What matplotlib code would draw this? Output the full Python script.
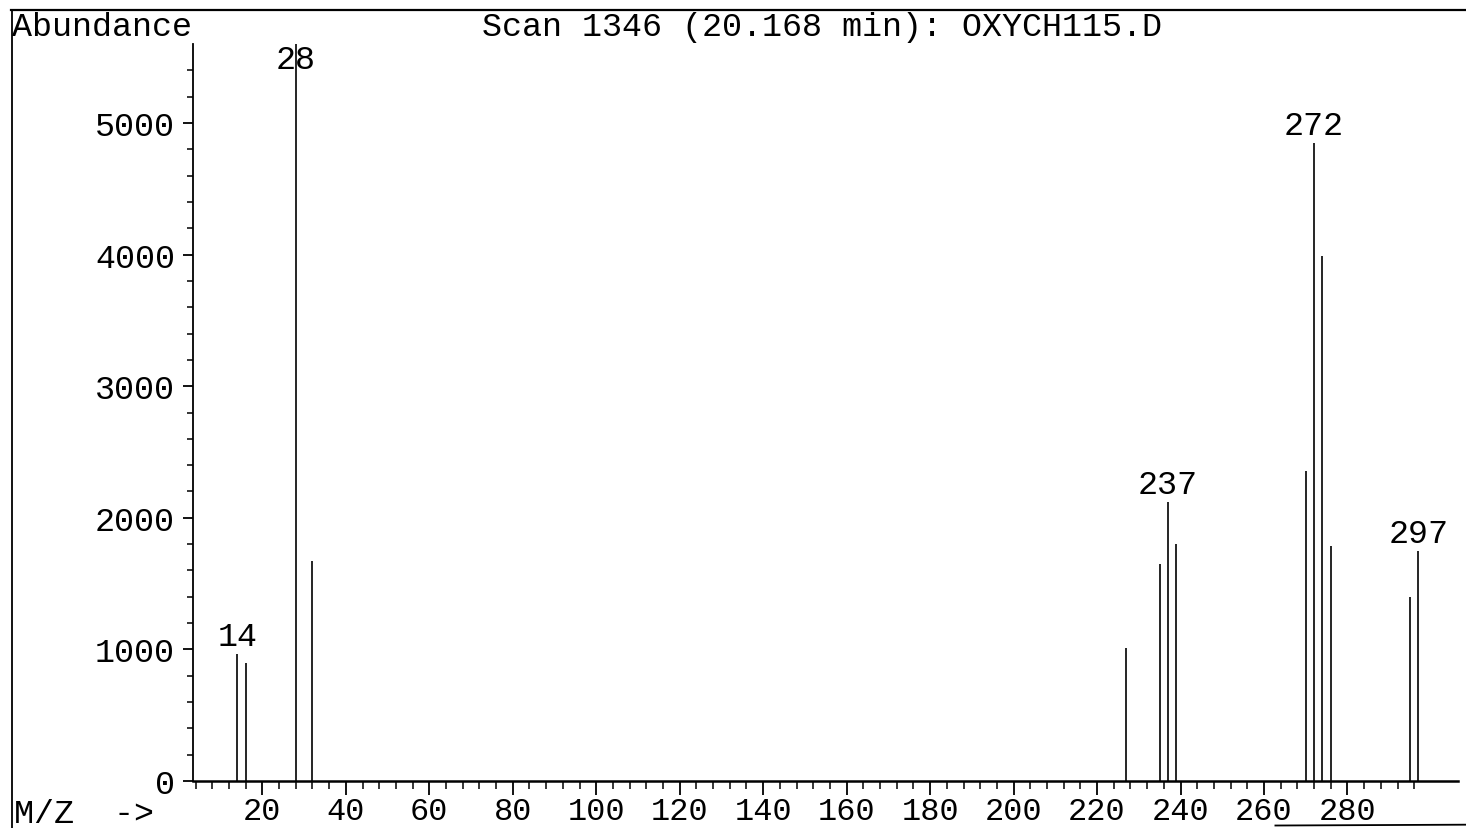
"""
    Mass spectrum stick plot, scan 1346
"""

import numpy as np
import matplotlib
matplotlib.use('Agg')
import matplotlib.pyplot as plt
from matplotlib.ticker import FixedLocator, NullFormatter

plt.rcParams['font.family'] = ['Liberation Mono', 'DejaVu Sans Mono']

# m/z of each ion and its abundance
mz = [14, 16, 28, 32, 227, 235, 237, 239, 270, 272, 274, 276, 295, 297]
abundance = [965, 900, 5600, 1670, 1010, 1650, 2120, 1800,
             2355, 4850, 3990, 1785, 1400, 1750]

# peaks that get their m/z printed above them
labelled = [14, 28, 237, 272, 297]

title = 'Scan 1346 (20.168 min): OXYCH115.D'
x_major = list(range(20, 281, 20))
x_minor = list(range(4, 297, 4))
y_major = [0, 1000, 2000, 3000, 4000, 5000]
y_minor = list(range(200, 5401, 200))

fig = plt.figure(figsize=(14.66, 8.29), dpi=100)
ax = fig.add_axes([0.1317, 0.0567, 0.8629, 0.889])

ax.vlines(mz, 0, abundance, colors='black', linewidth=1.2)

ymax = 5600
ax.set_xlim(3.4, 306.5)
ax.set_ylim(0, ymax)

for m, a in zip(mz, abundance):
    if m in labelled:
        ax.annotate(str(m), (m, min(a, 5350)), xytext=(0, 6.5),
                    textcoords='offset points', ha='center', va='baseline',
                    fontsize=24, color='black')

ax.spines['top'].set_visible(False)
ax.spines['right'].set_visible(False)
ax.spines['left'].set_linewidth(1.3)
ax.spines['bottom'].set_linewidth(1.8)

ax.xaxis.set_major_locator(FixedLocator(x_major))
ax.xaxis.set_minor_locator(FixedLocator(x_minor))
ax.yaxis.set_major_locator(FixedLocator(y_major))
ax.yaxis.set_minor_locator(FixedLocator(y_minor))
ax.xaxis.set_minor_formatter(NullFormatter())
ax.yaxis.set_minor_formatter(NullFormatter())

ax.tick_params(axis='x', which='major', direction='out', length=10,
               width=1.3, labelsize=23, pad=1)
ax.tick_params(axis='x', which='minor', direction='out', length=6, width=1.1)
ax.tick_params(axis='y', which='major', direction='out', length=7,
               width=1.3, labelsize=24, pad=6)
ax.tick_params(axis='y', which='minor', direction='out', length=4, width=1.1)

# page furniture: frame lines, corner labels and the scan title
fig.add_artist(plt.Line2D([0.0075, 1.0], [0.987, 0.987], transform=fig.transFigure,
                          color='black', linewidth=1.6))
fig.add_artist(plt.Line2D([0.0085, 0.0085], [0.0, 0.987], transform=fig.transFigure,
                          color='black', linewidth=1.3))
fig.add_artist(plt.Line2D([0.87, 1.0], [0.003, 0.004], transform=fig.transFigure,
                          color='black', linewidth=1.3))

fig.text(0.0085, 0.967, 'Abundance', ha='left', va='center', fontsize=24)
fig.text(0.0095, 0.018, 'M/Z  ->', ha='left', va='center', fontsize=24)
fig.text(0.5605, 0.967, title, ha='center', va='center', fontsize=24)

fig.savefig('out.png', dpi=100)
